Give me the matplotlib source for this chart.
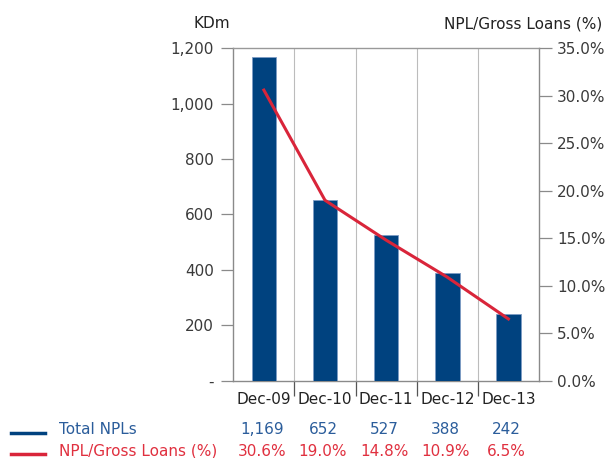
import matplotlib
matplotlib.use("Agg")
import matplotlib.pyplot as plt
import numpy as np

categories = ["Dec-09", "Dec-10", "Dec-11", "Dec-12", "Dec-13"]
total_npls = [1169, 652, 527, 388, 242]
npl_ratio = [30.6, 19.0, 14.8, 10.9, 6.5]
left_ticks = [0, 200, 400, 600, 800, 1000, 1200]
left_labels = ["-", "200", "400", "600", "800", "1,000", "1,200"]
right_ticks = [0, 5, 10, 15, 20, 25, 30, 35]

BLUE = "#00427f"
BLUE_TXT = "#2b5d9b"
RED = "#d9253a"
RED_TXT = "#e0303f"
GRID = "#bcbcbc"
SPINE = "#8a8a8a"
TXT = "#3a3a3a"

plt.rcParams["font.family"] = ["DejaVu Sans"]

W, H = 605, 458
fig = plt.figure(figsize=(W / 100, H / 100), dpi=100)
x0, x1, y0, y1 = 233.3, 539, 48.3, 380.7
ax = fig.add_axes([x0 / W, 1 - y1 / H, (x1 - x0) / W, (y1 - y0) / H])

x = np.arange(len(categories))
ax.bar(x, total_npls, width=0.4, color=BLUE, edgecolor="#7d9cc4", linewidth=0.6, zorder=3)
ax.set_xlim(-0.5, len(categories) - 0.5)
ax.set_ylim(0, 1200)

for b in np.arange(0.5, len(categories) - 0.5, 1):
    ax.axvline(b, color=GRID, lw=0.8, zorder=1)

ax.set_xticks(np.arange(0.5, len(categories) - 0.5, 1))
ax.set_xticklabels([])
ax.tick_params(axis="x", length=11, color="#555555", width=0.9)
for i, c in enumerate(categories):
    xc = (x0 + (x1 - x0) * (i + 0.5) / len(categories)) / W
    fig.text(xc, 1 - 404 / H, c, ha="center", va="baseline", fontsize=11, color="#222222")

ax.set_yticks(left_ticks)
ax.set_yticklabels(left_labels)
ax.tick_params(axis="y", length=9, color=SPINE, labelsize=11, labelcolor=TXT, pad=5, width=0.9)

for s in ["left", "right", "top", "bottom"]:
    ax.spines[s].set_color(SPINE)
    ax.spines[s].set_linewidth(1.0)
ax.spines["top"].set_color("#999999")

ax2 = ax.twinx()
ax2.plot(x, npl_ratio, color=RED, lw=2.2, zorder=4)
ax2.set_ylim(0, 35)
ax2.set_yticks(right_ticks)
ax2.set_yticklabels([f"{v:.1f}%" for v in right_ticks])
ax2.tick_params(axis="y", length=9, color=SPINE, labelsize=11, labelcolor=TXT, pad=4, width=0.9)
for s in ["left", "right", "top", "bottom"]:
    ax2.spines[s].set_visible(False)

fig.text(194 / W, 1 - 28.5 / H, "KDm", ha="left", va="baseline", fontsize=11, color="#222222")
fig.text(602 / W, 1 - 28.5 / H, "NPL/Gross Loans (%)", ha="right", va="baseline", fontsize=11,
         color="#222222")

# table / legend
row1_y = 1 - 434 / H
row2_y = 1 - 455.5 / H
fig.add_artist(plt.Line2D([11 / W, 45 / W], [1 - 432.5 / H] * 2, color=BLUE, lw=2.5))
fig.add_artist(plt.Line2D([11 / W, 45 / W], [1 - 454 / H] * 2, color=RED, lw=2.5))
fig.text(59 / W, row1_y, "Total NPLs", ha="left", va="baseline", fontsize=11, color=BLUE_TXT)
fig.text(59 / W, row2_y, "NPL/Gross Loans (%)", ha="left", va="baseline", fontsize=11, color=RED_TXT)
for i in range(len(categories)):
    xc = (x0 - 2 + (x1 - x0) * (i + 0.5) / len(categories)) / W
    fig.text(xc, row1_y, f"{total_npls[i]:,}", ha="center", va="baseline", fontsize=11, color=BLUE_TXT)
    fig.text(xc, row2_y, f"{npl_ratio[i]:.1f}%", ha="center", va="baseline", fontsize=11, color=RED_TXT)

fig.savefig("out.png", dpi=100)
